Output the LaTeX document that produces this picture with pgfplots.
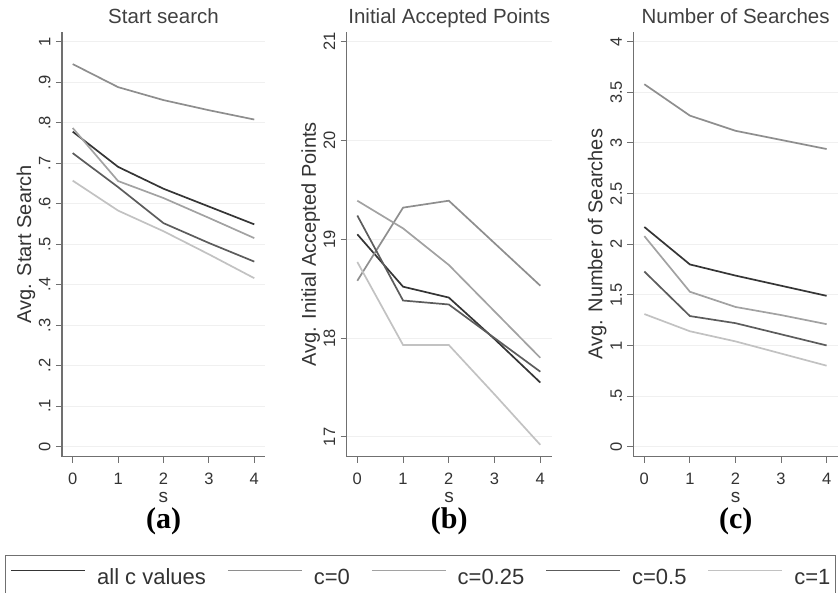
\documentclass[border=0pt]{standalone}
\usepackage{fontspec}
\setmainfont{Liberation Sans}
\newfontfamily\timesfont{Liberation Serif}
\usepackage{pgfplots}
\pgfplotsset{compat=1.18}
\definecolor{cAll}{HTML}{353535}
\definecolor{cZero}{HTML}{8E8E8E}
\definecolor{cQuart}{HTML}{A2A2A2}
\definecolor{cHalf}{HTML}{5C5C5C}
\definecolor{cOne}{HTML}{C2C2C2}
\definecolor{axc}{HTML}{707070}
\definecolor{gridc}{HTML}{F0F0F0}
\pgfplotsset{
  panel/.style={
    scale only axis, width=#1, height=425pt,
    anchor=south west, clip=false,
    axis x line=bottom, axis y line=left,
    axis line style={-, draw=axc, line width=1.2pt},
    tick style={draw=axc, line width=1pt},
    tick align=outside, major tick length=6pt,
    ymajorgrids, grid style={draw=gridc, line width=1pt},
    xtick={0,1,2,3,4},
    /pgf/number format/assume math mode=true,
    tick label style={font=\fontsize{16.5}{18}\selectfont, text=black!80},
    xticklabel style={anchor=base, yshift=-22pt},
    yticklabel style={rotate=90, anchor=base, yshift=5.5pt},
    xlabel={s},
    xlabel style={at={(axis description cs:0.5,0)}, anchor=base, yshift=-45.5pt, font=\fontsize{19}{22}\selectfont, text=black!80},
    ylabel style={at={(axis description cs:0,0.5)}, anchor=center, yshift=36pt, font=\fontsize{20}{24}\selectfont, text=black!80},
    title style={at={(axis description cs:0.5,1)}, anchor=base, yshift=2pt, font=\fontsize{20.5}{24}\selectfont, text=black!75},
    every axis plot/.append style={line width=1.7pt, no marks},
  }
}
\begin{document}
\begin{tikzpicture}
\useasboundingbox (0,0) rectangle (838pt,593pt);
% (a)
\begin{axis}[panel=203pt, at={(62pt,136.3pt)},
  xmin=-0.236, xmax=4.236, ymin=-0.025, ymax=1.025,
  ytick={0,0.1,0.2,0.3,0.4,0.5,0.6,0.7,0.8,0.9,1},
  yticklabels={0,.1,.2,.3,.4,.5,.6,.7,.8,.9,1},
  title={Start search}, ylabel={Avg. Start Search},
  legend style={at={(axis description cs:-0.282,-0.231)}, anchor=north west,
    draw=axc, line width=1.2pt, inner xsep=5pt, inner ysep=13pt,
    font=\fontsize{22}{26}\selectfont, legend columns=-1, text=black!80,
    nodes={inner sep=0pt, text height=16pt, text depth=4pt},
    /tikz/every odd column/.append style={column sep=11pt},
    /tikz/every even column/.append style={column sep=21pt}},
  legend image code/.code={\draw[#1, line width=1.8pt] (0pt,8pt) -- (74pt,8pt);},
]
\addplot[cAll] coordinates {(0,0.778) (1,0.691) (2,0.637) (3,0.593) (4,0.549)};
\addplot[cZero] coordinates {(0,0.945) (1,0.888) (2,0.856) (3,0.831) (4,0.808)};
\addplot[cQuart] coordinates {(0,0.787) (1,0.656) (2,0.614) (3,0.565) (4,0.515)};
\addplot[cHalf] coordinates {(0,0.725) (1,0.641) (2,0.552) (3,0.503) (4,0.457)};
\addplot[cOne] coordinates {(0,0.657) (1,0.583) (2,0.532) (3,0.475) (4,0.416)};
\legend{all c values, c=0, c=0.25, c=0.5, c=1}
\node[font=\timesfont\bfseries\fontsize{30}{34}\selectfont] at (axis description cs:0.5,-0.151) {(a)};
\end{axis}
% (b)
\begin{axis}[panel=205pt, at={(346.7pt,136.3pt)},
  xmin=-0.232, xmax=4.249, ymin=16.80, ymax=21.10,
  ytick={17,18,19,20,21},
  yticklabels={17,18,19,20,21},
  title={Initial Accepted Points}, ylabel={Avg. Initial Accepted Points},
]
\addplot[cAll] coordinates {(0,19.05) (1,18.52) (2,18.41) (3,17.99) (4,17.55)};
\addplot[cZero] coordinates {(0,18.58) (1,19.32) (2,19.39) (3,18.96) (4,18.53)};
\addplot[cQuart] coordinates {(0,19.39) (1,19.11) (2,18.74) (3,18.27) (4,17.80)};
\addplot[cHalf] coordinates {(0,19.24) (1,18.38) (2,18.34) (3,18.00) (4,17.66)};
\addplot[cOne] coordinates {(0,18.77) (1,17.93) (2,17.93) (3,17.43) (4,16.92)};
\node[font=\timesfont\bfseries\fontsize{30}{34}\selectfont] at (axis description cs:0.5,-0.151) {(b)};
\end{axis}
% (c)
\begin{axis}[panel=204.7pt, at={(633.3pt,136.3pt)},
  xmin=-0.242, xmax=4.25, ymin=-0.099, ymax=4.099,
  ytick={0,0.5,1,1.5,2,2.5,3,3.5,4},
  yticklabels={0,.5,1,1.5,2,2.5,3,3.5,4},
  title={Number of Searches}, ylabel={Avg. Number of Searches},
]
\addplot[cAll] coordinates {(0,2.17) (1,1.80) (2,1.69) (3,1.59) (4,1.49)};
\addplot[cZero] coordinates {(0,3.58) (1,3.27) (2,3.12) (3,3.03) (4,2.94)};
\addplot[cQuart] coordinates {(0,2.08) (1,1.53) (2,1.38) (3,1.30) (4,1.21)};
\addplot[cHalf] coordinates {(0,1.73) (1,1.29) (2,1.22) (3,1.11) (4,1.00)};
\addplot[cOne] coordinates {(0,1.31) (1,1.14) (2,1.04) (3,0.92) (4,0.80)};
\node[font=\timesfont\bfseries\fontsize{30}{34}\selectfont] at (axis description cs:0.5,-0.151) {(c)};
\end{axis}
\end{tikzpicture}
\end{document}
